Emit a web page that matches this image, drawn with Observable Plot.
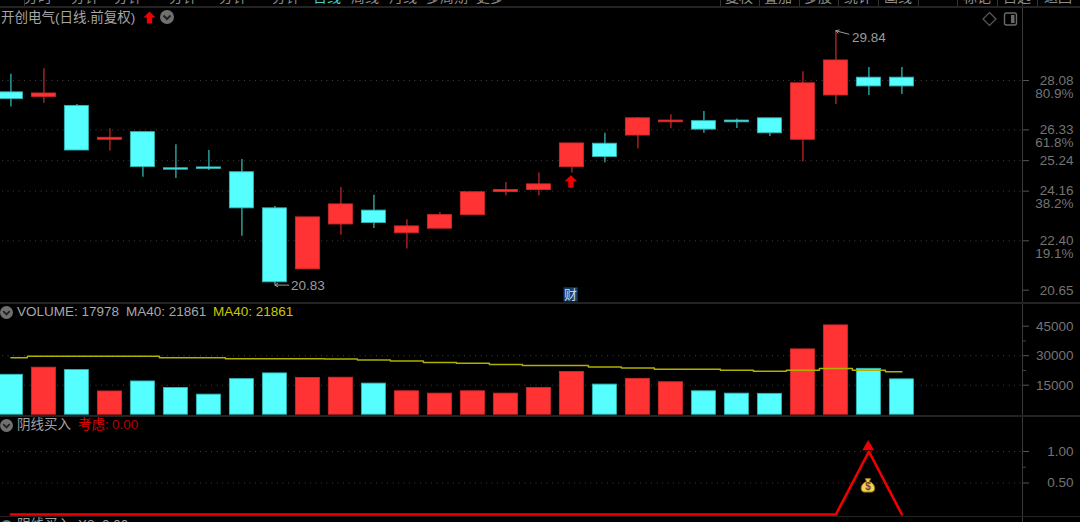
<!DOCTYPE html>
<html><head><meta charset="utf-8">
<script src="https://cdn.jsdelivr.net/npm/d3@7"></script>
<script src="https://cdn.jsdelivr.net/npm/@observablehq/plot@0.6"></script>
<style>
html,body{margin:0;padding:0;background:#000;overflow:hidden;width:1080px;height:522px}
body{position:relative;font-family:"Liberation Sans","Noto Sans CJK SC",sans-serif}
.panel{position:absolute;left:0}
.panel svg{display:block}
.t{position:absolute;white-space:nowrap;line-height:16px}
#nav{position:absolute;left:0;top:0;width:1080px;height:6px;overflow:hidden;color:#8c8c8c;font-size:14px;z-index:5}
#nav span{position:absolute;top:-11px;line-height:16px;transform:translateX(-50%);white-space:nowrap}
#nav i{position:absolute;top:0;width:1px;height:6px;background:#333}
.ic{position:absolute}
</style></head><body>
<div id="nav"></div>
<div id="price" class="panel" style="top:0"></div>
<div id="volume" class="panel" style="top:302px"></div>
<div id="signal" class="panel" style="top:415px"></div>
<div id="overlay"></div>
<script>
// ---------- data ----------
const opens  = [27.66,27.50,27.18,25.98,26.25,24.97,25.00,24.83,23.55,21.39,22.98,23.47,22.67,22.83,23.31,24.13,24.20,25.01,25.84,26.13,26.60,26.64,26.66,26.74,25.98,27.55,28.18,28.18];
const closes = [27.42,27.62,25.60,26.05,25.01,24.92,24.95,23.55,20.93,23.23,23.69,23.03,22.91,23.31,24.12,24.20,24.40,25.85,25.37,26.74,26.66,26.34,26.60,26.21,27.98,28.79,27.87,27.87];
const highs  = [28.30,28.50,27.23,26.37,26.25,25.80,25.60,25.28,23.62,23.23,24.29,24.01,23.15,23.40,24.12,24.47,24.80,25.85,26.21,26.77,26.87,26.98,26.72,26.74,28.39,29.84,28.54,28.54];
const lows   = [27.14,27.27,25.60,25.58,24.65,24.61,24.89,22.56,20.83,21.39,22.60,22.84,22.11,22.83,23.31,24.00,24.00,24.80,25.17,25.65,26.37,26.21,26.38,26.10,25.20,27.23,27.55,27.58];
const volumes = [20300,23900,22700,11800,16900,13600,10200,18100,21000,18700,18800,15800,11900,10700,11900,10700,13600,21700,15300,18200,16500,11900,10700,10600,33200,45400,23300,17978];
const ma40   = [29000,29670,29670,29670,29670,29000,29000,28500,28500,28500,28300,27800,27300,26600,26100,25500,25000,25000,24250,23750,23100,23100,22600,22100,22600,23450,22600,21861];
const signal = [0,0,0,0,0,0,0,0,0,0,0,0,0,0,0,0,0,0,0,0,0,0,0,0,0,0,1,0];

const priceTicks = [28.08,26.33,25.24,24.16,22.40,20.65];
const priceGrid  = [28.08,26.33,25.24,24.16,22.40];
const fibLabels  = [{price:28.08,label:"80.9%"},{price:26.33,label:"61.8%"},{price:24.16,label:"38.2%"},{price:22.40,label:"19.1%"}];
const volTicks   = [45000,30000,15000];
const volGrid    = [30000,15000];
const volMinor   = [37500,22500];
const sigTicks   = [1,0.5];
const sigMinor   = [0.75];
const maxMark = {i:25, price:29.84, label:"29.84"};
const minMark = {i:8,  price:20.83, label:"20.83"};
const buyArrowMark = {i:17, price:24.50};
const caiMark = {i:17, price:20.50, label:"财"};
const navLeft  = [["分时",38],["分钟",85],["分钟",128],["分钟",183],["分钟",233],["分钟",286],["日线",327,"#3fd0d0"],["周线",365],["月线",403],["多周期",447],["更多",490]];
const navRight = [["复权",739],["叠加",778],["多股",818],["统计",858],["画线",898],["标记",977],["自选",1017],["返回",1058]];
const navDivs  = [24,720,759,799,838,878,918,957,997,1037];

// ---------- look ----------
const RED="#ff3333", CYAN="#55ffff", REDW="#b02424", CYANW="#2fa6a6", REDE="#d02a2a", CYANE="#34b4b4";
const GRID="#3e3e3e", AXIS="#3a3a3a", LABEL="#747474", FONT='"Liberation Sans","Noto Sans CJK SC",sans-serif';
const W=1080, AX=1022, X0=10.4, STEP=33;
const xDomain=[(0-X0)/STEP,(AX-X0)/STEP];
const xScale={domain:xDomain,range:[0,AX]};
const halfBody=12/STEP;
const tickEnd=xDomain[1];
const rows=opens.map((o,i)=>({i,open:o,close:closes[i],high:highs[i],low:lows[i],vol:volumes[i],ma:ma40[i],sig:signal[i],up:closes[i]>=o}));
const ups=rows.filter(d=>d.up), downs=rows.filter(d=>!d.up);
const base={width:W,marginLeft:0,marginRight:W-AX,marginTop:0,marginBottom:0,style:{background:"#000",fontFamily:FONT,overflow:"visible"}};

const gridRule=(vals)=>Plot.ruleY(vals,{x1:xDomain[0]+2/STEP,x2:tickEnd,stroke:GRID,strokeWidth:1,strokeDasharray:"1 4.5"});
const axisMark=(vals,fmt)=>[
  Plot.axisY(vals,{anchor:"right",tickSize:6,tickFormat:()=>"",color:"#555",label:null}),
  Plot.text(vals,{y:d=>d,text:fmt,frameAnchor:"right",dx:51,textAnchor:"end",fill:LABEL,fontSize:13.5})
];
const minorMark=(vals)=>Plot.axisY(vals,{anchor:"right",tickSize:3,tickFormat:()=>"",color:"#444",label:null});
const sepRule=Plot.ruleX([tickEnd],{stroke:AXIS,strokeWidth:1});

const arrowSym={draw(c,size){const r=Math.sqrt(size/Math.PI);
  c.moveTo(0,-r);c.lineTo(r,-r*0.05);c.lineTo(r*0.42,-r*0.05);c.lineTo(r*0.42,r);c.lineTo(-r*0.42,r);c.lineTo(-r*0.42,-r*0.05);c.lineTo(-r,-r*0.05);c.closePath();}};
const bagSym={draw(c,size){const r=Math.sqrt(size/Math.PI);
  c.moveTo(-r*0.4,-r*1.05);c.lineTo(r*0.4,-r*1.05);c.lineTo(r*0.22,-r*0.6);
  c.bezierCurveTo(r*1.2,-r*0.25,r*1.25,r*0.9,r*0.6,r);c.lineTo(-r*0.6,r);
  c.bezierCurveTo(-r*1.25,r*0.9,-r*1.2,-r*0.25,-r*0.22,-r*0.6);c.closePath();}};

// ---------- price panel ----------
const candleMarks=(data,fill,wick,edge)=>[
  Plot.ruleX(data,{x:"i",y1:"low",y2:"high",stroke:wick,strokeWidth:1.4}),
  Plot.rect(data,{x1:d=>d.i-halfBody,x2:d=>d.i+halfBody,y1:"open",y2:"close",fill,stroke:edge,strokeWidth:0.9})
];
document.getElementById("price").append(Plot.plot({...base,height:302,
  x:{...xScale,axis:null},
  y:{domain:[20.65,28.08],range:[289.7,80]},
  marks:[
    gridRule(priceGrid),
    sepRule,
    ...candleMarks(downs,CYAN,CYANW,CYANE),
    ...candleMarks(ups,RED,REDW,REDE),
    ...axisMark(priceTicks,d=>d.toFixed(2)),
    Plot.text(fibLabels,{y:"price",text:"label",frameAnchor:"right",dx:51,dy:13,textAnchor:"end",fill:LABEL,fontSize:13.5}),
    Plot.dot([buyArrowMark],{x:d=>d.i-0.03,y:"price",r:6.3,symbol:arrowSym,fill:"#f00000",stroke:"none"}),
    Plot.dot([caiMark],{x:d=>d.i-0.04,y:"price",r:8,symbol:"square",fill:"#173f6e",stroke:"none"}),
    Plot.text([caiMark],{x:d=>d.i-0.04,y:"price",text:"label",fill:"#c8d8ea",fontSize:13}),
    Plot.arrow([maxMark],{x1:d=>d.i+13/STEP,y1:d=>d.price-0.12,x2:"i",y2:"price",stroke:"#9a9a9a",strokeWidth:1,headLength:5,bend:0}),
    Plot.text([maxMark],{x:"i",y:"price",text:"label",dx:16,dy:6.5,textAnchor:"start",fill:"#9c9c9c",fontSize:13.5}),
    Plot.arrow([minMark],{x1:d=>d.i+14/STEP,y1:"price",x2:"i",y2:"price",stroke:"#9a9a9a",strokeWidth:1,headLength:5,bend:0}),
    Plot.text([minMark],{x:"i",y:"price",text:"label",dx:16,dy:1,textAnchor:"start",fill:"#9c9c9c",fontSize:13.5})
  ]}));

// ---------- volume panel ----------
const volBars=(data,fill,edge)=>Plot.rect(data,{x1:d=>d.i-halfBody,x2:d=>d.i+halfBody,y1:0,y2:"vol",fill,stroke:edge,strokeWidth:0.9});
document.getElementById("volume").append(Plot.plot({...base,height:113,
  x:{...xScale,axis:null},
  y:{domain:[0,45000],range:[112.2,23.7]},
  marks:[
    gridRule(volGrid),
    sepRule,
    volBars(downs,CYAN,CYANE),
    volBars(ups,RED,REDE),
    Plot.line(rows,{x:"i",y:"ma",curve:"step",stroke:"#b0b000",strokeWidth:1.5}),
    minorMark(volMinor),
    ...axisMark(volTicks,d=>String(d))
  ]}));

// ---------- signal panel ----------
document.getElementById("signal").append(Plot.plot({...base,height:107,
  x:{...xScale,axis:null},
  y:{domain:[0,1],range:[99,36]},
  marks:[
    gridRule(sigTicks),
    sepRule,
    Plot.line(rows,{x:"i",y:"sig",stroke:"#f00000",strokeWidth:2.6,strokeLinejoin:"miter"}),
    Plot.dot([{i:26,v:1.075}],{x:d=>d.i-0.02,y:"v",r:4.4,symbol:"triangle",fill:"#f00000",stroke:"none"}),
    Plot.dot([{i:26,v:0.46}],{x:d=>d.i-0.03,y:"v",r:6.6,symbol:bagSym,fill:"#f4d24a",stroke:"#8a6a1a",strokeWidth:1}),
    Plot.text([{i:26,v:0.44,s:"$"}],{x:d=>d.i-0.03,y:"v",text:"s",fill:"#7a3b3b",fontSize:10,fontWeight:"bold"}),
    minorMark(sigMinor),
    ...axisMark(sigTicks,d=>d.toFixed(2))
  ]}));

// ---------- chrome: top strip, legends, separators ----------
const nav=document.getElementById("nav");
for(const [t,x,c] of [...navLeft,...navRight]){const s=document.createElement("span");s.textContent=t;s.style.left=x+"px";if(c)s.style.color=c;nav.append(s);}
for(const x of navDivs){const d=document.createElement("i");d.style.left=x+"px";nav.append(d);}
const ov=document.getElementById("overlay");
const addLine=(top,h)=>{const d=document.createElement("div");d.style.cssText=`position:absolute;left:0;top:${top}px;width:1080px;height:${h}px;background:#232323`;ov.append(d);};
addLine(6,2);addLine(302,1.5);addLine(415,1.5);addLine(515.5,1.5);
const addText=(txt,x,y,color,size)=>{const s=document.createElement("div");s.className="t";s.textContent=txt;s.style.cssText+=`left:${x}px;top:${y-8}px;color:${color};font-size:${size}px`;ov.append(s);};
const chevron=(x,y,r)=>{ov.insertAdjacentHTML("beforeend",`<svg class="ic" style="left:${x-r}px;top:${y-r}px" width="${2*r}" height="${2*r}" viewBox="-7 -7 14 14"><circle r="7" fill="#707070"/><path d="M-3.5 -1.5L0 2L3.5 -1.5" fill="none" stroke="#222" stroke-width="2"/></svg>`);};
addText("开创电气(日线.前复权)",1,17.5,"#a6a6a6",13.5);
ov.insertAdjacentHTML("beforeend",`<svg class="ic" style="left:143px;top:11px" width="13" height="13" viewBox="-6.5 -6.5 13 13"><path d="M0 -6L6 0H2.6V6H-2.6V0H-6Z" fill="#f00000"/></svg>`);
chevron(167,17,7);
ov.insertAdjacentHTML("beforeend",`<svg class="ic" style="left:980px;top:10px" width="40" height="18"><path d="M9.5 2.5L16 9L9.5 15.5L3 9Z" fill="none" stroke="#5a5a5a" stroke-width="1.2"/><rect x="24.5" y="3" width="12" height="12" rx="2" fill="none" stroke="#6a6a6a" stroke-width="1.4"/><rect x="31" y="5" width="3.5" height="8" fill="#6a6a6a"/></svg>`);
chevron(6,312,6.5);
addText("VOLUME: 17978",17,312,"#a8a8a8",13.5);
addText("MA40: 21861",126,312,"#a8a8a8",13.5);
addText("MA40: 21861",213,312,"#c8c800",13.5);
chevron(6,425,6.5);
addText("阴线买入",17,425,"#a0a0a0",13.5);
addText("考虑:",78,425,"#e00000",13.5);
addText("0.00",112,425,"#b80000",13.5);
chevron(6,526,6.5);
addText("阴线买入",17,525,"#a0a0a0",13.5);
addText("X2: 0.00",78,525,"#a0a0a0",13.5);
</script>
</body></html>
